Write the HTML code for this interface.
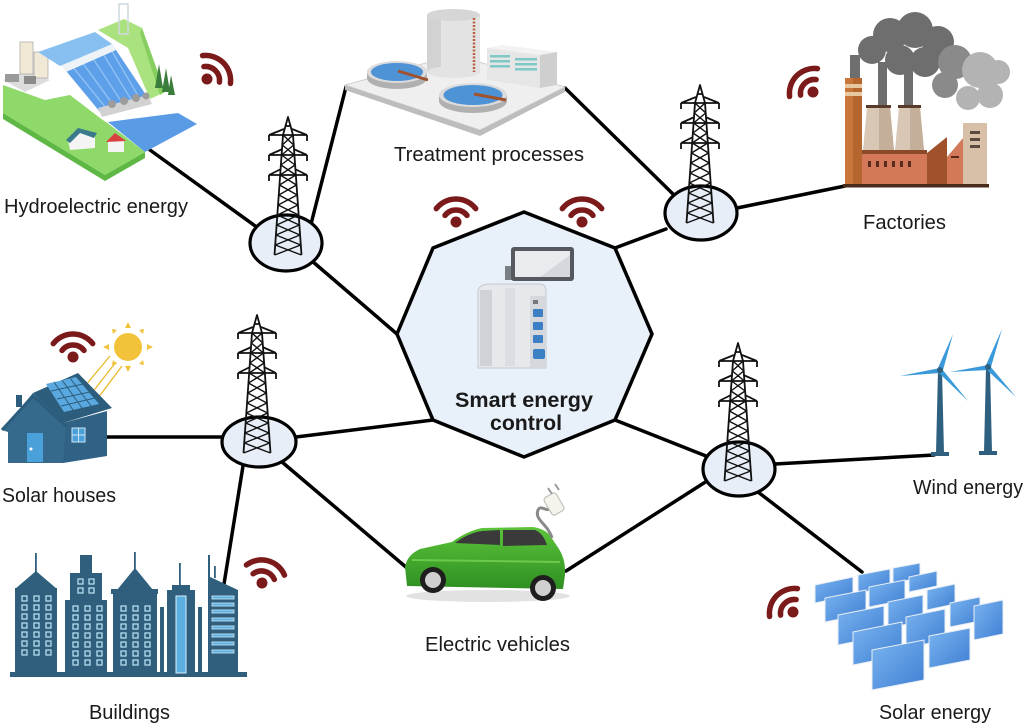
<!DOCTYPE html>
<html><head><meta charset="utf-8"><style>
html,body{margin:0;padding:0;background:#fff;}
body{width:1024px;height:725px;overflow:hidden;}
svg{display:block;}
text{font-family:"Liberation Sans",Arial,sans-serif;fill:#1a1a1a;}
</style></head><body>
<svg width="1024" height="725" viewBox="0 0 1024 725" xmlns="http://www.w3.org/2000/svg">
<defs>
<g id="tw" fill="none" stroke="#111" stroke-width="1.8" stroke-linejoin="round">
<path d="M0,0 L-2.5,9 L2.5,9 Z"/>
<path d="M-2.5,9 L-5,18 L-13.5,138 M2.5,9 L5,18 L13.5,138"/>
<path d="M-19,18 L19,18 M-4,12 L-19,18 M4,12 L19,18 M-19,18 L-19,24 M19,18 L19,24"/>
<path d="M-19,38 L19,38 M-5.5,32 L-19,38 M5.5,32 L19,38 M-19,38 L-19,44 M19,38 L19,44"/>
<path d="M-19,58 L19,58 M-7,52 L-19,58 M7,52 L19,58 M-19,58 L-19,64 M19,58 L19,64"/>
<path stroke-width="1.4" d="M-5,18L5.7,28M5,18L-5.7,28M-5.7,28L6.4,38M5.7,28L-6.4,38M-6.4,38L7.1,48M6.4,38L-7.1,48M-7.1,48L7.8,58M7.1,48L-7.8,58M-7.8,58L8.5,68M7.8,58L-8.5,68M-8.5,68L9.2,78M8.5,68L-9.2,78M-9.2,78L9.9,88M9.2,78L-9.9,88M-9.9,88L10.6,98M9.9,88L-10.6,98M-10.6,98L11.3,108M10.6,98L-11.3,108M-11.3,108L12,118M11.3,108L-12,118M-12,118L12.7,128M12,118L-12.7,128M-12.7,128L13.4,138M12.7,128L-13.4,138"/>
</g>
<g id="wf">
<circle cx="0" cy="0" r="5.5" fill="#7b1a1a"/>
<path d="M-11,-6.6 A14 14 0 0 1 11,-6.6 M-19.7,-13.4 A25 25 0 0 1 19.7,-13.4" fill="none" stroke="#7b1a1a" stroke-width="5.5" stroke-linecap="round"/>
</g>
<linearGradient id="pg" x1="0" y1="0" x2="1" y2="1">
<stop offset="0" stop-color="#7ab4f0"/><stop offset="1" stop-color="#3f7fd3"/>
</linearGradient>
<linearGradient id="cg" x1="0" y1="0" x2="0" y2="1">
<stop offset="0" stop-color="#5cc43a"/><stop offset="1" stop-color="#2f8f22"/>
</linearGradient>
</defs>

<!-- connectors -->
<g stroke="#000" stroke-width="3.5" fill="none" stroke-linecap="round">
<line x1="150" y1="150" x2="258" y2="228"/>
<line x1="346" y1="87" x2="311" y2="224"/>
<line x1="312" y1="261" x2="397" y2="334"/>
<line x1="565" y1="88" x2="674" y2="195"/>
<line x1="737" y1="208" x2="845" y2="186"/>
<line x1="666" y1="229" x2="615" y2="248"/>
<line x1="105" y1="437" x2="223" y2="437"/>
<line x1="296" y1="437" x2="433" y2="420"/>
<line x1="243" y1="466" x2="224" y2="584"/>
<line x1="282" y1="462" x2="407" y2="568"/>
<line x1="615" y1="420" x2="706" y2="456"/>
<line x1="775" y1="464" x2="934" y2="455"/>
<line x1="707" y1="481" x2="566" y2="571"/>
<line x1="758" y1="492" x2="862" y2="572"/>
</g>

<!-- tower ellipses -->
<g fill="#e8eef8" stroke="#000" stroke-width="3.2">
<ellipse cx="286" cy="243" rx="36" ry="28"/>
<ellipse cx="701" cy="213" rx="36" ry="27"/>
<ellipse cx="259" cy="442" rx="37" ry="25"/>
<ellipse cx="739" cy="469" rx="36" ry="27"/>
</g>
<use href="#tw" x="288" y="117"/>
<use href="#tw" x="700" y="85"/>
<use href="#tw" x="257" y="315"/>
<use href="#tw" x="738" y="343"/>

<!-- octagon -->
<polygon points="524,212 615,248 652,334 615,420 524,457 433,420 397,334 433,248" fill="#e8f0fa" stroke="#000" stroke-width="3.5" stroke-linejoin="miter"/>

<!-- control device -->
<rect x="505" y="266" width="8" height="14" fill="#7a7f86"/>
<rect x="511" y="247" width="63" height="34" rx="3" fill="#55595f"/>
<polygon points="515,251 570,251 570,277 515,277" fill="#e9ecef"/>
<polygon points="540,277 570,255 570,277" fill="#d5d9de"/>
<path d="M478,290 Q480,284 490,284 L540,284 Q546,284 546,292 L546,368 L478,368 Z" fill="#e6e8eb" stroke="#c5c9ce" stroke-width="1"/>
<rect x="480" y="290" width="12" height="76" fill="#cfd2d6"/>
<rect x="505" y="288" width="10" height="78" fill="#dadde1"/>
<rect x="530" y="296" width="15" height="72" fill="#d4d7db"/>
<rect x="533" y="300" width="5" height="4" fill="#777"/>
<g fill="#3b7fc4"><rect x="533" y="309" width="10" height="8" rx="1"/><rect x="533" y="322" width="10" height="8" rx="1"/><rect x="533" y="335" width="10" height="8" rx="1"/><rect x="533" y="349" width="12" height="10" rx="2"/></g>

<text x="455" y="407" font-size="21" font-weight="bold" textLength="138" lengthAdjust="spacingAndGlyphs">Smart energy</text>
<text x="490" y="430" font-size="21" font-weight="bold" textLength="72" lengthAdjust="spacingAndGlyphs">control</text>

<!-- hydro -->
<g>
<polygon points="98,30 124,19 142,28 165,92 150,99 128,48" fill="#a9e27f"/>
<polygon points="142,28 165,92 160,95 140,33" fill="#86cf5e"/>
<rect x="119" y="4" width="9" height="30" fill="none" stroke="#cfd8de" stroke-width="1.5"/>
<polygon points="3,85 45,100 70,95 100,118 110,125 145,152 105,175 3,113" fill="#8fd96a"/>
<polygon points="3,113 105,175 145,152 145,158 105,181 3,119" fill="#5fb845"/>
<polygon points="3,80 28,70 50,80 25,92" fill="#dcdcdc"/>
<rect x="20" y="42" width="13" height="32" fill="#efe9d6" stroke="#9a9a9a" stroke-width="0.6"/>
<rect x="34" y="52" width="14" height="26" fill="#efe9d6" stroke="#9a9a9a" stroke-width="0.6"/>
<rect x="5" y="74" width="14" height="8" fill="#9a9a9a"/>
<rect x="24" y="76" width="12" height="8" fill="#8a8a8a"/>
<polygon points="38,52 95,32 112,44 60,66" fill="#86bff0"/>
<polygon points="62,66 112,44 148,98 100,112" fill="#5d9fe8"/>
<g stroke="#8cc0f3" stroke-width="1.5"><line x1="72" y1="66" x2="106" y2="108"/><line x1="82" y1="62" x2="114" y2="106"/><line x1="92" y1="57" x2="123" y2="104"/><line x1="102" y1="52" x2="132" y2="101"/><line x1="110" y1="48" x2="140" y2="99"/></g>
<polygon points="62,66 112,44 116,50 66,72" fill="#eef3f8"/>
<polygon points="98,108 148,95 152,104 102,117" fill="#d2d2d2"/>
<g fill="#9c9c9c"><circle cx="112" cy="104" r="4"/><circle cx="124" cy="101" r="4"/><circle cx="136" cy="98" r="4"/><circle cx="146" cy="96" r="3.5"/></g>
<polygon points="108,122 178,113 197,124 145,152" fill="#5a9be6"/>
<g fill="#3b7d3b"><polygon points="155,88 159,64 163,88"/><polygon points="162,92 166,68 170,92"/><polygon points="168,95 171,75 175,95"/></g>
<polygon points="68,140 80,130 95,135 95,148 70,150" fill="#f4f4f4"/>
<polygon points="66,140 78,128 97,133 94,138 80,133 70,143" fill="#3a7a8a"/>
<rect x="108" y="141" width="16" height="11" fill="#f4f4f4"/>
<polygon points="106,142 115,133 126,141" fill="#d94040"/>
</g>

<!-- treatment -->
<g>
<polygon points="345,85 480,130 565,87 565,92 480,136 345,90" fill="#bdbdbd"/>
<polygon points="345,85 455,55 565,87 480,130" fill="#efefef" stroke="#c8c8c8" stroke-width="0.8"/>
<rect x="427" y="15" width="53" height="57" fill="#e3e3e3"/>
<rect x="427" y="15" width="14" height="57" fill="#d2d2d2"/>
<ellipse cx="453.5" cy="72" rx="26.5" ry="6" fill="#e3e3e3"/>
<ellipse cx="453.5" cy="15" rx="26.5" ry="6" fill="#d6d6d6"/>
<line x1="474" y1="18" x2="474" y2="72" stroke="#b86040" stroke-width="2.5" stroke-dasharray="2,1.5"/>
<polygon points="487,48 503,45 557,52 540,55" fill="#f2f2f2"/>
<polygon points="487,48 540,55 540,88 487,80" fill="#e6e6e6"/>
<polygon points="540,55 557,52 557,85 540,88" fill="#cfcfcf"/>
<g fill="#7ec8c8"><rect x="490" y="55" width="20" height="2.5"/><rect x="490" y="60" width="20" height="2.5"/><rect x="490" y="65" width="20" height="2.5"/><rect x="515" y="58" width="22" height="2.5"/><rect x="515" y="63" width="22" height="2.5"/><rect x="515" y="68" width="22" height="2.5"/></g>
<ellipse cx="397" cy="78" rx="30" ry="11" fill="#b0b0b0"/>
<rect x="367" y="72" width="60" height="6" fill="#b0b0b0"/>
<ellipse cx="397" cy="72" rx="30" ry="11" fill="#dcdcdc"/>
<ellipse cx="397" cy="72" rx="26" ry="9" fill="#4d93d6"/>
<line x1="398" y1="71" x2="428" y2="80" stroke="#a0522d" stroke-width="3"/>
<ellipse cx="473" cy="101" rx="34" ry="12" fill="#b0b0b0"/>
<rect x="439" y="95" width="68" height="6" fill="#b0b0b0"/>
<ellipse cx="473" cy="95" rx="34" ry="12" fill="#dcdcdc"/>
<ellipse cx="473" cy="95" rx="29.5" ry="10" fill="#4d93d6"/>
<line x1="474" y1="94" x2="506" y2="100" stroke="#a0522d" stroke-width="3"/>
</g>

<!-- factory -->
<g>
<g fill="#6e6e6e"><circle cx="872" cy="50" r="14"/><circle cx="890" cy="35" r="17"/><circle cx="915" cy="30" r="18"/><circle cx="938" cy="42" r="16"/><circle cx="925" cy="62" r="15"/><circle cx="900" cy="60" r="15"/><rect x="850" y="55" width="10" height="28"/><rect x="878" y="62" width="9" height="45"/><rect x="904" y="68" width="9" height="40"/></g>
<g fill="#8a8a8a"><circle cx="955" cy="62" r="17"/><circle cx="945" cy="85" r="13"/></g>
<g fill="#b3b3b3"><circle cx="980" cy="70" r="18"/><circle cx="990" cy="95" r="13"/><circle cx="968" cy="98" r="12"/><circle cx="998" cy="72" r="12"/></g>
<rect x="845" y="78" width="17" height="107" fill="#b5652e"/>
<rect x="845" y="78" width="8" height="107" fill="#c8763a"/>
<rect x="845" y="84" width="17" height="4" fill="#e8c8a0"/>
<rect x="845" y="92" width="17" height="4" fill="#e8c8a0"/>
<polygon points="867,107 890,107 894,150 863,150" fill="#d8c7b4"/>
<polygon points="879,107 890,107 894,150 879,150" fill="#c4b09a"/>
<rect x="866" y="105" width="25" height="3" fill="#5a3a2a"/>
<polygon points="899,107 920,107 924,150 895,150" fill="#d8c7b4"/>
<polygon points="910,107 920,107 924,150 910,150" fill="#c4b09a"/>
<rect x="898" y="105" width="23" height="3" fill="#5a3a2a"/>
<rect x="862" y="150" width="65" height="35" fill="#d4785a"/>
<rect x="862" y="150" width="65" height="4" fill="#8a4a2a"/>
<g fill="#5a2a1a"><rect x="868" y="161" width="3" height="6"/><rect x="876" y="161" width="3" height="6"/><rect x="884" y="161" width="3" height="6"/><rect x="892" y="161" width="3" height="6"/><rect x="900" y="161" width="3" height="6"/><rect x="908" y="161" width="3" height="6"/></g>
<polygon points="927,153 947,137 947,185 927,185" fill="#a0522d"/>
<polygon points="947,157 963,138 963,185 947,185" fill="#d4785a"/>
<rect x="951" y="156" width="8" height="2" fill="#5a2a1a"/>
<rect x="963" y="123" width="24" height="62" fill="#d8c0a8"/>
<g fill="#5a4a40"><rect x="970" y="131" width="10" height="3"/><rect x="970" y="138" width="10" height="3"/><rect x="970" y="145" width="10" height="3"/></g>
<rect x="843" y="184" width="146" height="3.5" fill="#4a2a1a"/>
</g>

<!-- solar house -->
<g>
<g stroke="#e8b830" stroke-width="1.3"><line x1="110" y1="356" x2="80" y2="392"/><line x1="116" y1="362" x2="88" y2="398"/><line x1="122" y1="366" x2="95" y2="402"/></g>
<circle cx="128" cy="347" r="14" fill="#f2c33a"/>
<g fill="#f2c33a"><polygon points="125,328 131,328 128,322"/><polygon points="125,366 131,366 128,372"/><polygon points="109,344 109,350 103,347"/><polygon points="147,344 147,350 153,347"/><polygon points="113,334 117,330 112,329"/><polygon points="139,330 143,334 144,329"/><polygon points="113,360 117,364 112,365"/><polygon points="143,360 139,364 144,365"/></g>
<rect x="16" y="395" width="6" height="12" fill="#2c5d7c"/>
<polygon points="33,393 78,373 112,408 63,423" fill="#2c5d7c"/>
<polygon points="46,384 76,377 99,404 64,412" fill="#5aa8e0"/>
<g stroke="#2c5d7c" stroke-width="1"><line x1="54" y1="382" x2="73" y2="410"/><line x1="62" y1="380" x2="82" y2="408"/><line x1="70" y1="378" x2="91" y2="406"/><line x1="51" y1="391" x2="83" y2="384"/><line x1="57" y1="399" x2="90" y2="392"/><line x1="61" y1="406" x2="95" y2="398"/></g>
<polygon points="63,423 107,411 107,456 63,463" fill="#2f6285"/>
<polygon points="2,430 33,393 66,424 63,463 8,463 8,432" fill="#356a8c"/>
<polyline points="2,430 33,396 66,426" fill="none" stroke="#2c5d7c" stroke-width="3"/>
<rect x="27" y="433" width="16" height="29" fill="#4aa0d8"/>
<circle cx="31" cy="449" r="1.5" fill="#fff"/>
<rect x="72" y="428" width="13" height="14" fill="#4aa0d8" stroke="#cfe6f5" stroke-width="1"/>
<line x1="78.5" y1="428" x2="78.5" y2="442" stroke="#cfe6f5"/><line x1="72" y1="435" x2="85" y2="435" stroke="#cfe6f5"/>
</g>

<!-- buildings -->
<g fill="#2f5f7d">
<rect x="15" y="588" width="42" height="85"/>
<polygon points="15,589 36,571 57,589"/>
<rect x="35" y="553" width="1.8" height="19"/>
<rect x="65" y="600" width="42" height="73"/>
<rect x="70" y="573" width="32" height="28"/>
<rect x="80" y="555" width="12" height="18"/>
<rect x="113" y="592" width="44" height="81"/>
<rect x="111" y="589" width="47" height="5"/>
<polygon points="117,590 135,568 153,590"/>
<rect x="134" y="552" width="1.8" height="17"/>
<rect x="160" y="607" width="4" height="66"/>
<rect x="167" y="590" width="28" height="83"/>
<rect x="172" y="585" width="18" height="6"/>
<rect x="179" y="563" width="1.8" height="23"/>
<rect x="198" y="607" width="4" height="66"/>
<polygon points="208,576 238,590 238,673 208,673"/>
<rect x="208" y="555" width="2" height="22"/>
<rect x="214" y="566" width="1.8" height="12"/>
<rect x="10" y="672" width="237" height="5"/>
</g>
<rect x="176" y="596" width="10" height="77" fill="#5aaee0" stroke="#d8eef8" stroke-width="1"/>
<g fill="#2f5f7d" stroke="#bfe6f7" stroke-width="1.2">
<rect x="22" y="596" width="5" height="5"/><rect x="34" y="596" width="5" height="5"/><rect x="46" y="596" width="5" height="5"/>
<rect x="22" y="605" width="5" height="5"/><rect x="34" y="605" width="5" height="5"/><rect x="46" y="605" width="5" height="5"/>
<rect x="22" y="614" width="5" height="5"/><rect x="34" y="614" width="5" height="5"/><rect x="46" y="614" width="5" height="5"/>
<rect x="22" y="623" width="5" height="5"/><rect x="34" y="623" width="5" height="5"/><rect x="46" y="623" width="5" height="5"/>
<rect x="22" y="632" width="5" height="5"/><rect x="34" y="632" width="5" height="5"/><rect x="46" y="632" width="5" height="5"/>
<rect x="22" y="641" width="5" height="5"/><rect x="34" y="641" width="5" height="5"/><rect x="46" y="641" width="5" height="5"/>
<rect x="22" y="650" width="5" height="5"/><rect x="34" y="650" width="5" height="5"/><rect x="46" y="650" width="5" height="5"/>
<rect x="78" y="579" width="5" height="5"/><rect x="89" y="579" width="5" height="5"/><rect x="78" y="588" width="5" height="5"/><rect x="89" y="588" width="5" height="5"/>
<rect x="73" y="606" width="5" height="5"/><rect x="85" y="606" width="5" height="5"/><rect x="97" y="606" width="5" height="5"/>
<rect x="73" y="615" width="5" height="5"/><rect x="85" y="615" width="5" height="5"/><rect x="97" y="615" width="5" height="5"/>
<rect x="73" y="624" width="5" height="5"/><rect x="85" y="624" width="5" height="5"/><rect x="97" y="624" width="5" height="5"/>
<rect x="73" y="633" width="5" height="5"/><rect x="85" y="633" width="5" height="5"/><rect x="97" y="633" width="5" height="5"/>
<rect x="73" y="642" width="5" height="5"/><rect x="85" y="642" width="5" height="5"/><rect x="97" y="642" width="5" height="5"/>
<rect x="73" y="651" width="5" height="5"/><rect x="85" y="651" width="5" height="5"/><rect x="97" y="651" width="5" height="5"/>
<rect x="73" y="660" width="5" height="5"/><rect x="85" y="660" width="5" height="5"/><rect x="97" y="660" width="5" height="5"/>
<rect x="121" y="606" width="5" height="5"/><rect x="133" y="606" width="5" height="5"/><rect x="145" y="606" width="5" height="5"/>
<rect x="121" y="615" width="5" height="5"/><rect x="133" y="615" width="5" height="5"/><rect x="145" y="615" width="5" height="5"/>
<rect x="121" y="624" width="5" height="5"/><rect x="133" y="624" width="5" height="5"/><rect x="145" y="624" width="5" height="5"/>
<rect x="121" y="633" width="5" height="5"/><rect x="133" y="633" width="5" height="5"/><rect x="145" y="633" width="5" height="5"/>
<rect x="121" y="642" width="5" height="5"/><rect x="133" y="642" width="5" height="5"/><rect x="145" y="642" width="5" height="5"/>
<rect x="121" y="651" width="5" height="5"/><rect x="133" y="651" width="5" height="5"/><rect x="145" y="651" width="5" height="5"/>
<rect x="121" y="660" width="5" height="5"/><rect x="133" y="660" width="5" height="5"/><rect x="145" y="660" width="5" height="5"/>
</g>
<g fill="#5aaee0" stroke="#d8eef8" stroke-width="0.8">
<rect x="212" y="596" width="22" height="3"/><rect x="212" y="603" width="22" height="3"/><rect x="212" y="610" width="22" height="3"/><rect x="212" y="618" width="22" height="3"/><rect x="212" y="626" width="22" height="3"/><rect x="212" y="634" width="22" height="3"/><rect x="212" y="642" width="22" height="3"/><rect x="212" y="650" width="22" height="3"/>
</g>

<!-- car -->
<g>
<ellipse cx="488" cy="596" rx="82" ry="6" fill="#e2e2e2"/>
<path d="M407,586 L405,567 Q407,555 420,549 L452,542 Q467,531 482,528 L533,527 Q546,529 551,537 L559,549 Q566,560 565,575 L563,589 Z" fill="url(#cg)"/>
<path d="M455,543 Q468,533 482,531 L500,530 L500,545 Z" fill="#3a3a3a"/>
<path d="M503,530 L535,530 Q543,533 547,545 L503,546 Z" fill="#3a3a3a"/>
<line x1="412" y1="560" x2="560" y2="562" stroke="#7ed957" stroke-width="2" opacity="0.7"/>
<circle cx="433" cy="580" r="13" fill="#1e1e1e"/><circle cx="433" cy="580" r="8" fill="#d0d0d0"/>
<circle cx="543" cy="588" r="13" fill="#1e1e1e"/><circle cx="543" cy="588" r="8" fill="#d0d0d0"/>
<path d="M552,538 C548,524 534,520 538,510 C541,504 547,513 550,508" fill="none" stroke="#8a8a8a" stroke-width="3"/>
<rect x="547" y="494" width="14" height="20" rx="3" fill="#f4f4ec" stroke="#b8b8b0" stroke-width="1" transform="rotate(-30 554 504)"/>
<g stroke="#9a9a9a" stroke-width="2"><line x1="552" y1="494" x2="548" y2="488"/><line x1="559" y1="490" x2="555" y2="484"/></g>
</g>

<!-- wind turbines -->
<g>
<polygon points="938,370 942,370 944,453 936,453" fill="#2f6080"/>
<rect x="931" y="452" width="18" height="4" fill="#2f6080"/>
<g fill="#3a9ad9"><polygon points="938,368 953,334 943,370"/><polygon points="940,368 900,376 940,373"/><polygon points="942,369 968,401 939,373"/></g>
<circle cx="940" cy="370" r="3" fill="#2f6080"/>
<polygon points="986,367 990,367 992,452 984,452" fill="#2f6080"/>
<rect x="979" y="451" width="18" height="4" fill="#2f6080"/>
<g fill="#3a9ad9"><polygon points="986,365 1002,329 991,367"/><polygon points="988,365 950,372 988,370"/><polygon points="990,366 1016,397 987,370"/></g>
<circle cx="988" cy="367" r="3" fill="#2f6080"/>
</g>

<!-- solar panels -->
<g fill="url(#pg)" stroke="#e8eef6" stroke-width="1">
<polygon points="815,585 853,577 853,595 815,603"/>
<polygon points="858,575 890,569 890,587 858,593"/>
<polygon points="893,568 920,563 920,578 893,583"/>
<polygon points="825,598 866,590 866,614 825,622"/>
<polygon points="869,587 905,580 905,600 869,607"/>
<polygon points="909,577 937,571 937,586 909,592"/>
<polygon points="838,615 884,606 884,636 838,645"/>
<polygon points="888,602 923,595 923,621 888,628"/>
<polygon points="927,590 955,584 955,604 927,610"/>
<polygon points="853,632 902,622 902,655 853,665"/>
<polygon points="906,617 945,609 945,640 906,648"/>
<polygon points="950,603 980,597 980,621 950,627"/>
<polygon points="872,650 924,640 924,680 872,690"/>
<polygon points="929,636 970,628 970,660 929,668"/>
<polygon points="974,606 1003,600 1003,634 974,640"/>
</g>

<!-- wifi icons -->
<use href="#wf" transform="translate(207,79) rotate(45)"/>
<use href="#wf" transform="translate(456,222)"/>
<use href="#wf" transform="translate(582,222)"/>
<use href="#wf" transform="translate(813,92) rotate(-45)"/>
<use href="#wf" transform="translate(73,357)"/>
<use href="#wf" transform="translate(262,583) rotate(15)"/>
<use href="#wf" transform="translate(793,612) rotate(-45)"/>

<!-- labels -->
<g font-size="20">
<text x="4" y="213" textLength="184" lengthAdjust="spacingAndGlyphs">Hydroelectric energy</text>
<text x="394" y="161" textLength="190" lengthAdjust="spacingAndGlyphs">Treatment processes</text>
<text x="863" y="229" textLength="83" lengthAdjust="spacingAndGlyphs">Factories</text>
<text x="2" y="502" textLength="114" lengthAdjust="spacingAndGlyphs">Solar houses</text>
<text x="89" y="719" textLength="81" lengthAdjust="spacingAndGlyphs">Buildings</text>
<text x="425" y="651" textLength="145" lengthAdjust="spacingAndGlyphs">Electric vehicles</text>
<text x="913" y="494" textLength="110" lengthAdjust="spacingAndGlyphs">Wind energy</text>
<text x="879" y="719" textLength="112" lengthAdjust="spacingAndGlyphs">Solar energy</text>
</g>
</svg>
</body></html>
